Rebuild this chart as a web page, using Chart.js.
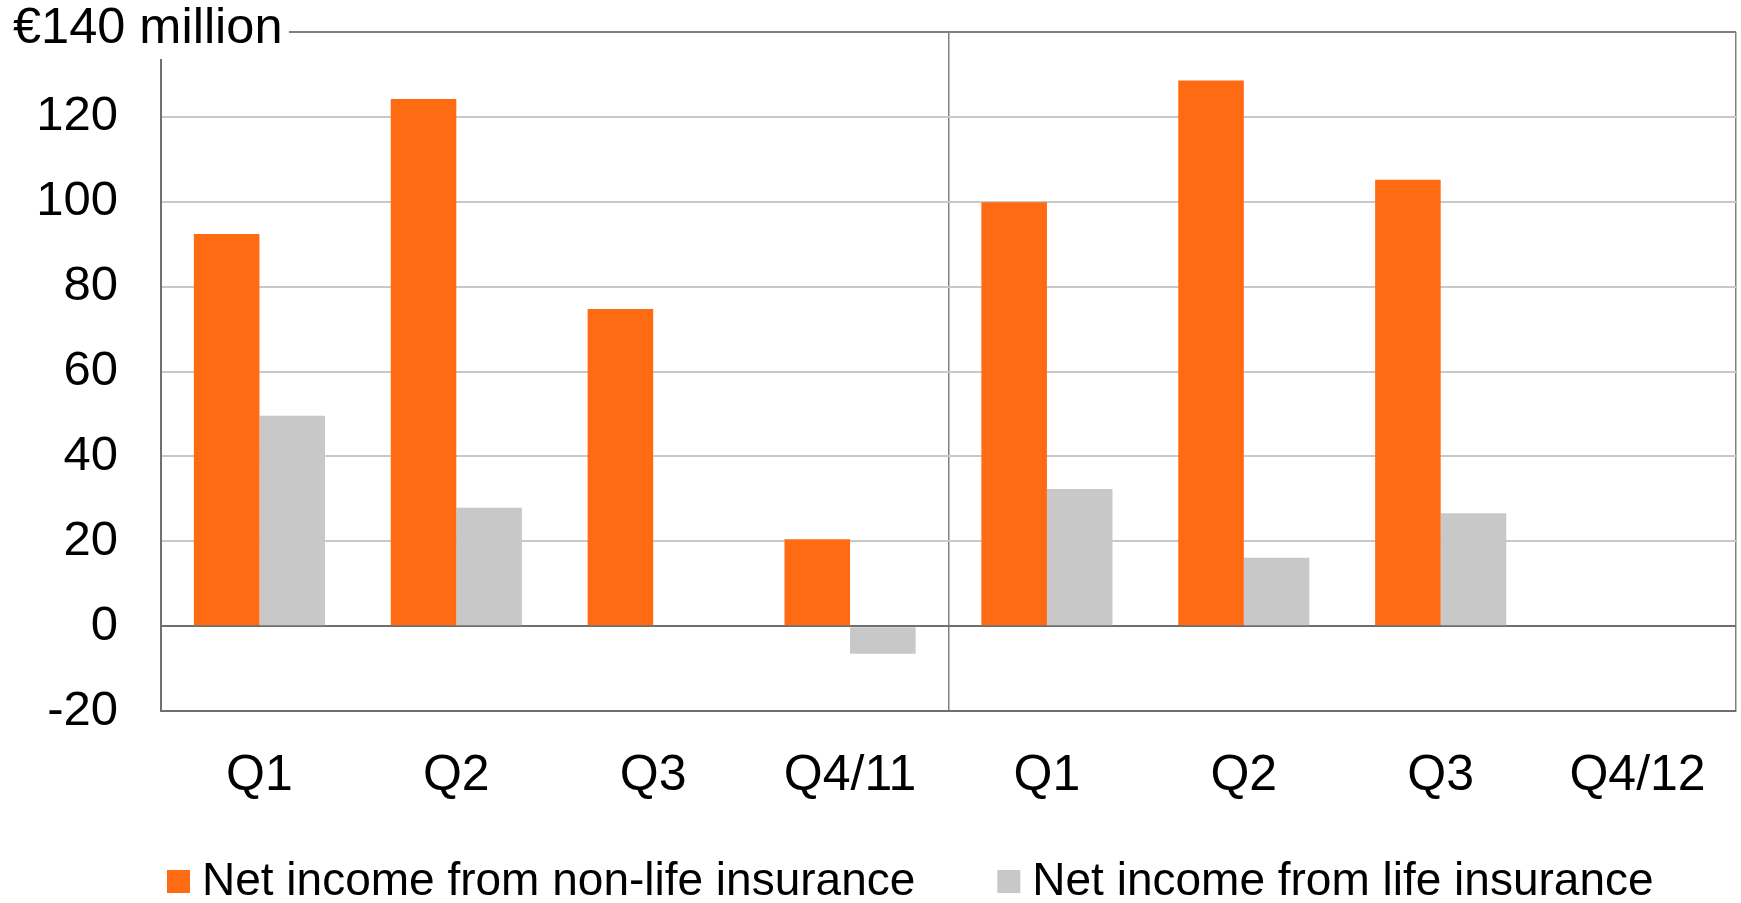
<!DOCTYPE html>
<html>
<head>
<meta charset="utf-8">
<script src="https://cdn.jsdelivr.net/npm/chart.js@4.4.1/dist/chart.umd.min.js"></script>
<style>
  html, body { margin: 0; padding: 0; background: #fff; }
</style>
</head>
<body>
<canvas id="chart" width="1741" height="903"></canvas>
<script>
const categories = ['Q1', 'Q2', 'Q3', 'Q4/11', 'Q1', 'Q2', 'Q3', 'Q4/12'];
const nonLife = [92.4, 124.2, 74.7, 20.5, 99.9, 128.6, 105.2, null];
const life = [49.6, 27.9, null, -6.5, 32.3, 16.1, 26.6, null];
const seriesNames = ['Net income from non-life insurance', 'Net income from life insurance'];
const yMin = -20;
const yMax = 140;
const yStep = 20;
const topLabel = '€140 million';

const FONT = '"Liberation Sans", Arial, sans-serif';

// unit label over the top-left corner + custom legend at the bottom
const extras = {
    id: 'extras',
    afterDraw(chart) {
        const ctx = chart.ctx;
        const a = chart.chartArea;
        ctx.save();
        ctx.fillStyle = '#fff';
        ctx.fillRect(0, 0, 289, 59);
        ctx.fillStyle = '#000';
        ctx.font = '50.5px ' + FONT;
        ctx.textBaseline = 'middle';
        ctx.textAlign = 'left';
        ctx.fillText(topLabel, 13, 29);

        ctx.font = '46px ' + FONT;
        let lx = a.left + 6;
        const ly = 882;
        chart.data.datasets.forEach((ds) => {
            ctx.fillStyle = ds.backgroundColor;
            ctx.fillRect(lx, ly - 12, 23, 23);
            lx += 23 + 12;
            ctx.fillStyle = '#000';
            ctx.fillText(ds.label, lx, ly);
            lx += ctx.measureText(ds.label).width + 82;
        });
        ctx.restore();
    }
};

new Chart(document.getElementById('chart'), {
    type: 'bar',
    data: {
        labels: categories,
        datasets: [{
            label: seriesNames[0],
            data: nonLife,
            backgroundColor: '#ff6b12',
            borderWidth: 0
        }, {
            label: seriesNames[1],
            data: life,
            backgroundColor: '#c8c8c8',
            borderWidth: 0
        }]
    },
    options: {
        responsive: false,
        animation: false,
        devicePixelRatio: 1,
        categoryPercentage: 0.666,
        barPercentage: 1,
        layout: { padding: { top: 32, right: 5, left: 0, bottom: 0 } },
        plugins: {
            legend: { display: false },
            tooltip: { enabled: false }
        },
        scales: {
            x: {
                afterFit: (scale) => { scale.height = 192; },
                grid: {
                    offset: true,
                    drawTicks: false,
                    lineWidth: 1.5,
                    color: (c) => (c.type === 'tick' && c.index !== 4) ? 'rgba(0,0,0,0)' : '#808080'
                },
                border: { display: true, color: '#6e6e6e', width: 2 },
                ticks: {
                    padding: 35,
                    color: '#000',
                    font: { family: FONT, size: 50 },
                    maxRotation: 0,
                    autoSkip: false
                }
            },
            y: {
                min: yMin,
                max: yMax,
                afterFit: (scale) => {
                    scale.width = 161;
                    scale.paddingTop = 0;
                    scale.paddingBottom = 0;
                },
                grid: {
                    drawTicks: false,
                    lineWidth: 2,
                    color: (c) => {
                        const v = c.tick ? c.tick.value : null;
                        if (v === 0) return '#6e6e6e';
                        if (v === yMax) return '#808080';
                        if (v === yMin) return 'rgba(0,0,0,0)';
                        return '#c8c8c8';
                    }
                },
                border: { display: true, color: '#707070', width: 2 },
                ticks: {
                    stepSize: yStep,
                    padding: 43,
                    color: '#000',
                    font: { family: FONT, size: 49 },
                    callback: (v) => v === yMax ? '' : v
                }
            }
        }
    },
    plugins: [extras]
});
</script>
</body>
</html>
